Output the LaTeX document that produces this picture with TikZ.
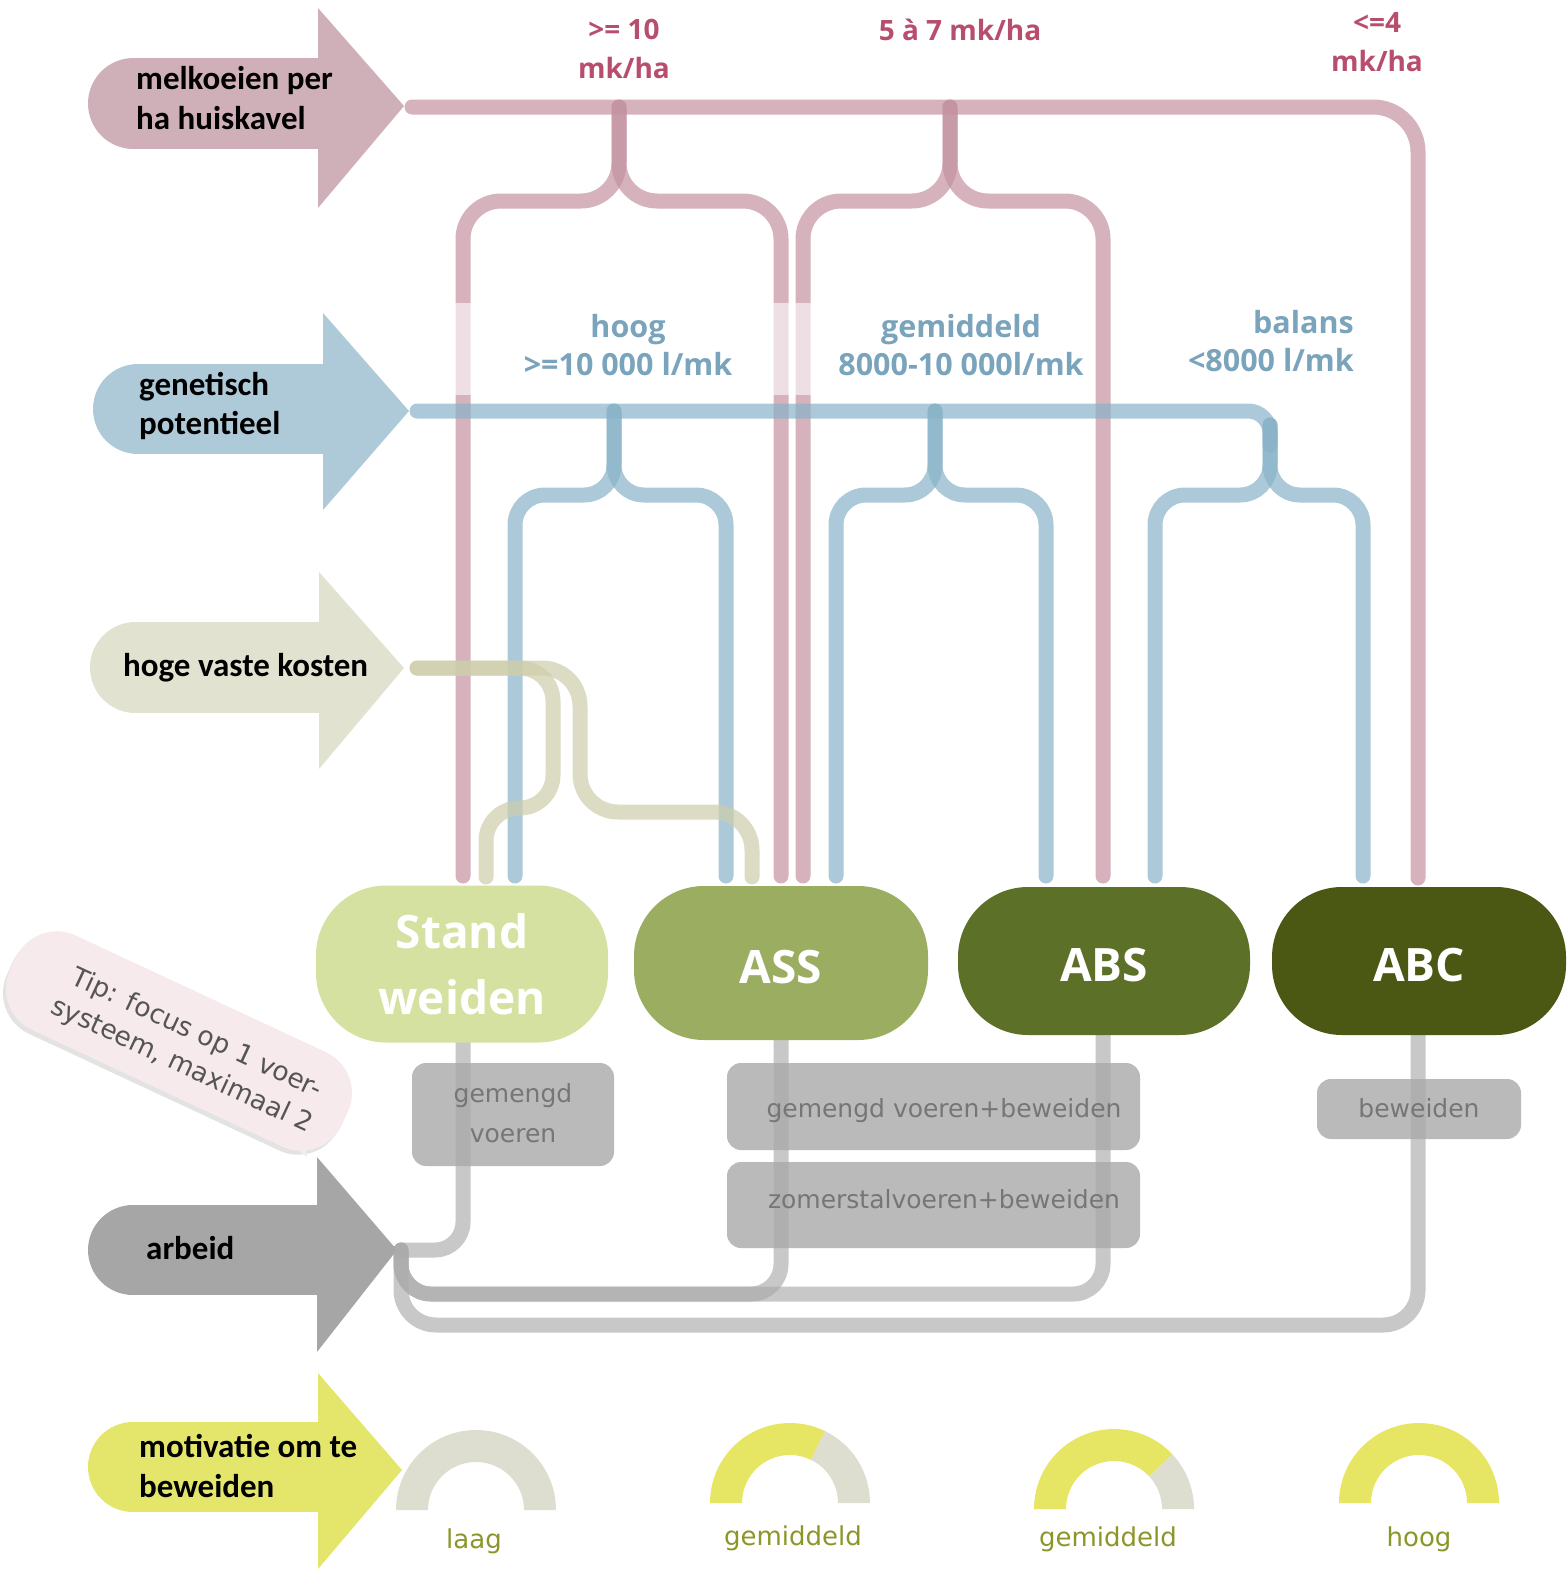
\documentclass[tikz,border=0pt]{standalone}
\usepackage{fontspec}
\usetikzlibrary{shadows,backgrounds}
\newfontfamily\lblfont{Carlito}
\newfontfamily\valfont{Open Sans}
\newfontfamily\dvfont{DejaVu Sans}

\definecolor{arrpink}{RGB}{207,176,185}
\definecolor{arrblue}{RGB}{174,201,215}
\definecolor{arrbeige}{RGB}{225,226,207}
\definecolor{arrgrey}{RGB}{166,166,166}
\definecolor{arryellow}{RGB}{228,230,108}
\definecolor{pipepink}{RGB}{195,145,159}
\definecolor{pipeblue}{RGB}{136,178,199}
\definecolor{pipebeige}{RGB}{205,205,172}
\definecolor{pipegrey}{RGB}{170,170,170}
\definecolor{txtpink}{RGB}{184,78,110}
\definecolor{txtblue}{RGB}{122,163,188}
\definecolor{txtgauge}{RGB}{140,150,40}
\definecolor{boxgrey}{RGB}{186,186,186}
\definecolor{boxtxt}{RGB}{118,118,118}
\definecolor{sysA}{RGB}{212,225,160}
\definecolor{sysB}{RGB}{155,173,96}
\definecolor{sysC}{RGB}{93,112,40}
\definecolor{sysD}{RGB}{74,88,20}
\definecolor{gyellow}{RGB}{230,230,100}
\definecolor{ggrey}{RGB}{222,222,208}
\definecolor{tippink}{RGB}{246,234,236}
\definecolor{tiptxt}{RGB}{85,85,85}

% #1 colour, #2 left, #3 body top, #4 body bottom, #5 head base x, #6 head top, #7 head bottom, #8 tip x, #9 tip y
\newcommand{\flowarrow}[9]{%
  \pgfmathsetmacro\myrr{(#4-#3)/2}%
  \fill[#1] ({#2+\myrr},{(#3+#4)/2}) circle[radius=\myrr pt];
  \fill[#1] ({#2+\myrr},#3) rectangle ({#5+1},#4);
  \fill[#1] (#5,#6) -- (#8,#9) -- (#5,#7) -- cycle;
}

\begin{document}
\begin{tikzpicture}[x=1pt,y=-1pt,
  pipe/.style={line width=15pt, line cap=round, draw opacity=0.7},
  ppipe/.style={pipe, draw=pipepink, rounded corners=38pt},
  bpipe/.style={pipe, draw=pipeblue, rounded corners=30pt},
  kpipe/.style={pipe, draw=pipebeige, rounded corners=34pt},
  gpipe/.style={pipe, draw=pipegrey, draw opacity=0.65, rounded corners=30pt},
  albl/.style={font=\lblfont\bfseries\fontsize{33}{39.5}\selectfont, anchor=west, align=left, inner sep=0pt},
  vpink/.style={font=\valfont\bfseries\fontsize{28}{39}\selectfont, text=txtpink, align=center, inner sep=0pt},
  vblue/.style={font=\valfont\bfseries\fontsize{30.5}{38}\selectfont, text=txtblue, align=center, inner sep=0pt},
  sysnode/.style={rounded corners=70pt, text=white, align=center, inner sep=0pt,
     font=\valfont\bfseries\fontsize{46}{66}\selectfont},
  greybox/.style={fill=boxgrey, rounded corners=14pt, inner sep=0pt},
  boxtext/.style={font=\dvfont\fontsize{25}{40}\selectfont, text=boxtxt, align=center, inner sep=0pt},
  glbl/.style={font=\dvfont\fontsize{26}{30}\selectfont, text=txtgauge, inner sep=0pt},
  tipbox/.style={fill=tippink, rounded corners=45pt, minimum width=366pt, minimum height=104pt,
     inner sep=0pt, drop shadow={opacity=0.22, shadow xshift=-3pt, shadow yshift=-4pt}},
  tiptext/.style={align=center, inner sep=0pt, text=tiptxt, font=\dvfont\fontsize{26.5}{35}\selectfont}
]
\useasboundingbox (0,0) rectangle (1567,1574);

% ---------- system nodes ----------
\node[sysnode, fill=sysA, minimum width=292pt, minimum height=157pt] (sw) at (462,964) {Stand\\weiden};
\node[sysnode, fill=sysB, minimum width=294pt, minimum height=154pt, text height=41pt] (ass) at (781,963) {ASS};
\node[sysnode, fill=sysC, minimum width=292pt, minimum height=148pt, text height=41pt] (abs) at (1104,961) {ABS};
\node[sysnode, fill=sysD, minimum width=294pt, minimum height=148pt, text height=41pt] (abc) at (1419,961) {ABC};

\begin{pgfonlayer}{background}
% ---------- big arrows ----------
\flowarrow{arrpink}{88}{58}{149}{318}{8}{208}{404}{106}
\flowarrow{arrblue}{93}{364}{454}{323}{313}{510}{409}{411}
\flowarrow{arrbeige}{90}{622}{713}{319}{572}{769}{404}{668}
\flowarrow{arrgrey}{88}{1205}{1295}{317}{1157}{1352}{397}{1250}
\flowarrow{arryellow}{88}{1422}{1512}{318}{1373}{1569}{402}{1470}
\coordinate (tipP) at (412,107);
\coordinate (tipB) at (417,411);
\coordinate (tipK) at (417,668);
\coordinate (tipG) at (401,1250);

% ---------- pink pipes ----------
\draw[ppipe, rounded corners=45pt] (tipP) -- (1418,107) -- (1418,878);
\coordinate (pj1) at (619,107);
\coordinate (pj2) at (950,107);
\draw[ppipe] (pj1) -- (619,201) -- (463,201) -- (463,876);
\draw[ppipe] (pj1) -- (619,201) -- (781,201) -- (781,876);
\draw[ppipe] (pj2) -- (950,201) -- (803,201) -- (803,876);
\draw[ppipe] (pj2) -- (950,201) -- (1103,201) -- (1103,876);
% veil behind labels
\fill[white, opacity=0.6] (452,303) rectangle (1092,395);

% ---------- blue pipes ----------
\draw[bpipe, rounded corners=22pt] (tipB) -- (1270,411) -- (1270,445);
\coordinate (bj1) at (614,411);
\coordinate (bj2) at (935,411);
\coordinate (bj3) at (1270,425);
\draw[bpipe] (bj1) -- (614,495) -- (515,495) -- (515,876);
\draw[bpipe] (bj1) -- (614,495) -- (726,495) -- (726,876);
\draw[bpipe] (bj2) -- (935,495) -- (836,495) -- (836,876);
\draw[bpipe] (bj2) -- (935,495) -- (1046,495) -- (1046,876);
\draw[bpipe] (bj3) -- (1270,495) -- (1155,495) -- (1155,876);
\draw[bpipe] (bj3) -- (1270,495) -- (1363,495) -- (1363,876);

% ---------- beige pipes ----------
\draw[kpipe, rounded corners=33pt] (tipK) -- (553,668) -- (553,808) -- (486,808) -- (486,877);
\draw[kpipe, rounded corners=38pt] (tipK) -- (580,668) -- (580,812) -- (752,812) -- (752,877);

% ---------- grey boxes ----------
\node[greybox, minimum width=202pt, minimum height=103pt] (b1) at (513,1114.5) {};
\node[greybox, minimum width=413pt, minimum height=87pt] (b2) at (933.5,1106.5) {};
\node[greybox, minimum width=413pt, minimum height=86pt] (b3) at (933.5,1205) {};
\node[greybox, minimum width=204pt, minimum height=60pt] (b4) at (1419,1109) {};

% ---------- grey pipes ----------
\draw[gpipe, rounded corners=28pt] (tipG) -- (463,1250) -- (sw.south -| 463,0);
\draw[gpipe] (tipG) -- (401,1294) -- (781,1294) -- (ass.south);
\draw[gpipe] (tipG) -- (401,1294) -- (1103,1294) -- (abs.south -| 1103,0);
\draw[gpipe, rounded corners=35pt] (tipG) -- (401,1325) -- (1418,1325) -- (abc.south -| 1418,0);
\end{pgfonlayer}

% ---------- box texts ----------
\node[boxtext] (bt1) at (513,1113) {gemengd\\voeren};
\node[boxtext] (bt2) at (944,1111) {gemengd voeren+beweiden};
\node[boxtext] (bt3) at (944,1199) {zomerstalvoeren+beweiden};
\node[boxtext] (bt4) at (1419,1108) {beweiden};

% ---------- arrow labels ----------
\node[albl] (t1) at (136,98) {melkoeien per\\ha huiskavel};
\node[albl] (t2) at (139,406) {genetisch\\potentieel};
\node[albl] (t3) at (123,668) {hoge vaste kosten};
\node[albl] (t4) at (146,1248) {arbeid};
\node[albl] (t5) at (139,1466) {motivatie om te\\beweiden};

% ---------- value labels ----------
\node[vpink] (v1) at (624,49) {>= 10\\mk/ha};
\node[vpink] (v2) at (960,30) {5 à 7 mk/ha};
\node[vpink] (v3) at (1377,42) {<=4\\mk/ha};
\node[vblue] (w1) at (628,345) {hoog\\>=10 000 l/mk};
\node[vblue] (w2) at (961,345) {gemiddeld\\8000-10 000l/mk};
\node[vblue, anchor=east, align=right] (w3) at (1354,341) {balans\\<8000 l/mk};

% ---------- gauges ----------
\begin{scope}[shift={(476,1510)}, y=1pt]
\fill[ggrey] (180:80) arc[start angle=180, end angle=0, radius=80] -- (0:48) arc[start angle=0, end angle=180, radius=48] -- cycle;
\end{scope}
\begin{scope}[shift={(790,1503)}, y=1pt]
\fill[gyellow] (180:80) arc[start angle=180, end angle=64, radius=80] -- (64:48) arc[start angle=64, end angle=180, radius=48] -- cycle;
\fill[ggrey] (64:80) arc[start angle=64, end angle=0, radius=80] -- (0:48) arc[start angle=0, end angle=64, radius=48] -- cycle;
\end{scope}
\begin{scope}[shift={(1114,1509)}, y=1pt]
\fill[gyellow] (180:80) arc[start angle=180, end angle=43, radius=80] -- (43:48) arc[start angle=43, end angle=180, radius=48] -- cycle;
\fill[ggrey] (43:80) arc[start angle=43, end angle=0, radius=80] -- (0:48) arc[start angle=0, end angle=43, radius=48] -- cycle;
\end{scope}
\begin{scope}[shift={(1419,1503)}, y=1pt]
\fill[gyellow] (180:80) arc[start angle=180, end angle=0, radius=80] -- (0:48) arc[start angle=0, end angle=180, radius=48] -- cycle;
\end{scope}
\node[glbl] (g1) at (474,1541) {laag};
\node[glbl] (g2) at (793,1538) {gemiddeld};
\node[glbl] (g3) at (1108,1539) {gemiddeld};
\node[glbl] (g4) at (1419,1539) {hoog};

% ---------- tip bubble ----------
\node[tipbox, rotate=-25] (tip) at (179,1041) {};
\fill[tippink] (268,1126) -- (302,1112) -- (307,1157) -- cycle;
\node[tiptext, rotate=-25] (tiptx) at (189,1050) {Tip: focus op 1 voer-\\systeem, maximaal 2};
\end{tikzpicture}
\end{document}
